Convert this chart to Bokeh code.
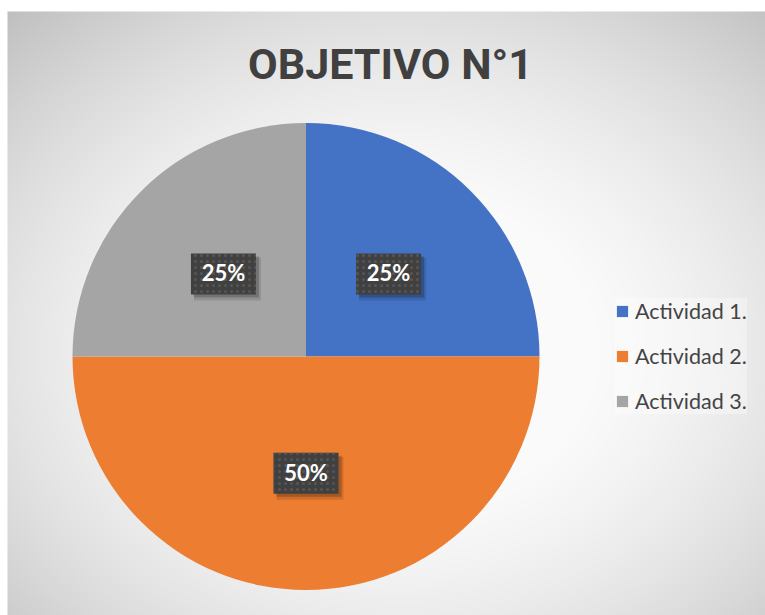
import numpy as np
from bokeh.plotting import figure
from bokeh.models import Range1d, Legend, LegendItem, ColumnDataSource
from bokeh.core.properties import value
from bokeh.embed import file_html
from bokeh.resources import INLINE

# ---- data ----
categories = ["Actividad 1.", "Actividad 2.", "Actividad 3."]
values = [25, 50, 25]
colors = ["#4472C4", "#ED7D31", "#A5A5A5"]
title_text = "OBJETIVO N°1"

# ---- layout helpers (page pixel -> data coords, 1 unit = 1 px) ----
W, H = 765, 615
def fx(px):
    return px
def fy(py):
    return H - py

CX, CY, R = fx(305.5), fy(356), 233.5
FONT = value("Lato")

p = figure(width=W, height=H, x_range=Range1d(0, W), y_range=Range1d(0, H),
           output_backend="svg", toolbar_location=None, min_border=0,
           x_axis_location=None, y_axis_location=None,
           background_fill_color="white", border_fill_color="white",
           outline_line_color=None)
p.grid.visible = False

# ---- background radial gradient ----
x0, y0 = 7, 11
gw, gh = W - x0, H - y0
ys, xs = np.mgrid[0:gh, 0:gw]
page_x = xs + x0 + 0.5
page_y = H - (ys + 0.5)
r2 = ((page_x - 400) / 400.0) ** 2 + ((page_y - 350) / 320.0) ** 2
g = np.clip(258 - 32 * r2, 185, 250).astype(np.uint8)
img = np.empty((gh, gw), dtype=np.uint32)
view = img.view(dtype=np.uint8).reshape((gh, gw, 4))
view[..., 0] = g
view[..., 1] = g
view[..., 2] = g
view[..., 3] = 255
p.image_rgba(image=[img], x=fx(x0), y=0, dw=gw, dh=gh)

# ---- pie ----
total = float(sum(values))
fr = np.array(values) / total
cum = np.concatenate([[0.0], np.cumsum(fr)])
start = np.pi / 2 - 2 * np.pi * cum[:-1]
end = np.pi / 2 - 2 * np.pi * cum[1:]
src = ColumnDataSource(dict(cat=categories, val=values, color=colors,
                            start=start, end=end))
wr = p.wedge(x=CX, y=CY, radius=R, start_angle="start", end_angle="end",
             direction="clock", fill_color="color", line_color=None, source=src)

# ---- data labels ----
mid = (start + end) / 2
lx = CX + 0.5 * R * np.cos(mid)
ly = CY + 0.5 * R * np.sin(mid)
labels = [f"{round(v / total * 100)}%" for v in values]
lsrc = ColumnDataSource(dict(x=lx, y=ly, ty=ly + 1, sx1=lx + 3, sy1=ly - 3,
                             sx2=lx + 4, sy2=ly - 5, t=labels))
p.rect(x="sx2", y="sy2", width=67, height=43, fill_color="black",
       fill_alpha=0.12, line_color=None, source=lsrc)
p.rect(x="sx1", y="sy1", width=65, height=41, fill_color="black",
       fill_alpha=0.2, line_color=None, source=lsrc)
p.rect(x="x", y="y", width=65, height=41, fill_color="#404040",
       line_color=None, hatch_pattern="dot", hatch_color="#555555",
       hatch_scale=6, hatch_weight=1.5, source=lsrc)
p.text(x="x", y="ty", text="t", text_font=FONT, text_font_style="bold",
       text_font_size="22px", text_color="white", text_align="center",
       text_baseline="middle", source=lsrc)

# ---- title ----
p.text(x=[fx(390)], y=[fy(63)], text=[title_text],
       text_font=value("Roboto"),
       text_font_style="bold", text_font_size="43px", text_color="#404040",
       text_align="center", text_baseline="alphabetic")

# ---- legend ----
legend = Legend(items=[LegendItem(label=c, renderers=[wr], index=i)
                       for i, c in enumerate(categories)],
                location=(fx(615), fy(414)), orientation="vertical",
                glyph_width=14, glyph_height=14, label_standoff=6,
                spacing=19, padding=12, margin=0, label_height=22,
                label_text_font="Lato", label_text_font_size="21.5px",
                label_text_color="#444444", background_fill_color="white",
                background_fill_alpha=0.35, border_line_color=None)
p.add_layout(legend)

open("out.html", "w").write(file_html(p, INLINE))
